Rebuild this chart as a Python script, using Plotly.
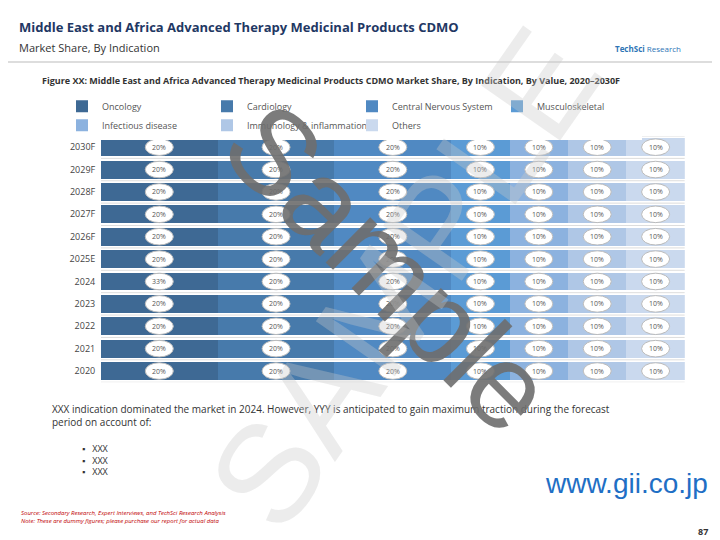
import plotly.graph_objects as go

years = ["2020", "2021", "2022", "2023", "2024", "2025E", "2026F", "2027F", "2028F", "2029F", "2030F"]
series = ["Oncology", "Cardiology", "Central Nervous System", "Musculoskeletal",
          "Infectious disease", "Immunology & inflammation", "Others"]
values = {
    "Oncology": [20]*11,
    "Cardiology": [20]*11,
    "Central Nervous System": [20]*11,
    "Musculoskeletal": [10]*11,
    "Infectious disease": [10]*11,
    "Immunology & inflammation": [10]*11,
    "Others": [10]*11,
}
labels = {s: [f"{v}%" for v in values[s]] for s in series}
labels["Oncology"][years.index("2024")] = "33%"
colors = ["#3E6994", "#477AAB", "#5089C2", "#5B9BD5", "#8CB2DF", "#AFC7E6", "#CAD9EE"]

fig = go.Figure()
for s, c in zip(series, colors):
    fig.add_trace(go.Bar(y=years, x=values[s], name=s, orientation="h",
                         marker=dict(color=c, line=dict(width=0)), hoverinfo="skip"))

annotations = []
shapes = []
for yi, y in enumerate(years):
    cum = 0
    for s in series:
        v = values[s][yi]
        xc = cum + v / 2
        cum += v
        shapes.append(dict(type="circle", xref="x", yref="y", x0=xc - 2.4, x1=xc + 2.4,
                           y0=yi - 0.37, y1=yi + 0.37, fillcolor="white",
                           line=dict(color="#BBBBBB", width=1), layer="above"))
        annotations.append(dict(x=xc, y=yi, xref="x", yref="y", text=labels[s][yi],
                                showarrow=False, font=dict(size=7, color="#555555")))

for i in range(len(years) + 1):
    shapes.append(dict(type="line", xref="x", yref="y", x0=0, x1=100, y0=i - 0.5, y1=i - 0.5,
                       line=dict(color="#DDDDDD", width=1), layer="below"))

F = "Open Sans"
annotations += [
    dict(x=0.012, y=0.985, xref="paper", yref="paper", xanchor="left", yanchor="top", showarrow=False,
         text="<b>Middle East and Africa Advanced Therapy Medicinal Products CDMO</b>",
         font=dict(size=13, color="#1F3864", family=F)),
    dict(x=0.012, y=0.945, xref="paper", yref="paper", xanchor="left", yanchor="top", showarrow=False,
         text="Market Share, By Indication", font=dict(size=11, color="#333333", family=F)),
    dict(x=0.84, y=0.925, xref="paper", yref="paper", xanchor="left", yanchor="middle", showarrow=False,
         text="<b>TechSci</b> Research", font=dict(size=8, color="#2E75B6", family=F)),
    dict(x=0.045, y=0.865, xref="paper", yref="paper", xanchor="left", yanchor="middle", showarrow=False,
         text="<b>Figure XX: Middle East and Africa Advanced Therapy Medicinal Products CDMO Market Share, By Indication, By Value, 2020–2030F</b>",
         font=dict(size=9, color="#333333", family=F)),
    dict(x=0.058, y=0.275, xref="paper", yref="paper", xanchor="left", yanchor="top", showarrow=False, align="left",
         text="XXX indication dominated the market in 2024. However, YYY is anticipated to gain maximum traction during the forecast<br>period on account of:",
         font=dict(size=10, color="#333333", family=F)),
    dict(x=0.1, y=0.2, xref="paper", yref="paper", xanchor="left", yanchor="top", showarrow=False, align="left",
         text="▪   XXX<br>▪   XXX<br>▪   XXX", font=dict(size=9, color="#333333", family=F)),
    dict(x=0.975, y=0.12, xref="paper", yref="paper", xanchor="right", yanchor="middle", showarrow=False,
         text="www.gii.co.jp", font=dict(size=28, color="#1F6FC5", family="Liberation Sans")),
    dict(x=0.015, y=0.058, xref="paper", yref="paper", xanchor="left", yanchor="middle", showarrow=False, align="left",
         text="<i>Source: Secondary Research, Expert Interviews, and TechSci Research Analysis<br>Note: These are dummy figures; please purchase our report for actual data</i>",
         font=dict(size=6, color="#C00000", family=F)),
    dict(x=0.975, y=0.03, xref="paper", yref="paper", xanchor="right", yanchor="middle", showarrow=False,
         text="<b>87</b>", font=dict(size=9, color="#333333", family=F)),
    dict(x=0.53, y=0.52, xref="paper", yref="paper", showarrow=False, textangle=45,
         text="Sample", font=dict(size=120, color="rgba(110,110,110,0.9)", family="Liberation Sans")),
    dict(x=0.55, y=0.5, xref="paper", yref="paper", showarrow=False, textangle=-55,
         text="SAMPLE", font=dict(size=140, color="rgba(200,200,200,0.35)", family="Liberation Sans")),
]
shapes += [
    dict(type="line", xref="paper", yref="paper", x0=0.0, x1=1.0, y0=0.9, y1=0.9,
         line=dict(color="#BBBBBB", width=1)),
    dict(type="line", xref="paper", yref="paper", x0=0.0, x1=1.0, y0=0.01, y1=0.01,
         line=dict(color="#BBBBBB", width=1)),
]

fig.update_layout(
    width=720, height=540, barmode="stack", bargap=0.2,
    margin=dict(l=0, r=0, t=0, b=0), paper_bgcolor="white", plot_bgcolor="white",
    font=dict(family=F, color="#444444"),
    xaxis=dict(domain=[0.129, 0.94], range=[0, 100], showticklabels=False, showgrid=False, zeroline=False),
    yaxis=dict(domain=[0.307, 0.763], type="category", categoryorder="array", categoryarray=years,
               range=[-0.5, 10.5], showgrid=False, ticks="",
               tickfont=dict(size=9, color="#444444"), ticksuffix="  "),
    legend=dict(orientation="h", x=0.075, y=0.845, xanchor="left", yanchor="top", traceorder="normal",
                entrywidth=100, font=dict(size=9, color="#555555"), itemwidth=30, tracegroupgap=0),
    annotations=annotations, shapes=shapes, showlegend=True,
)
fig.write_html("out.html")
